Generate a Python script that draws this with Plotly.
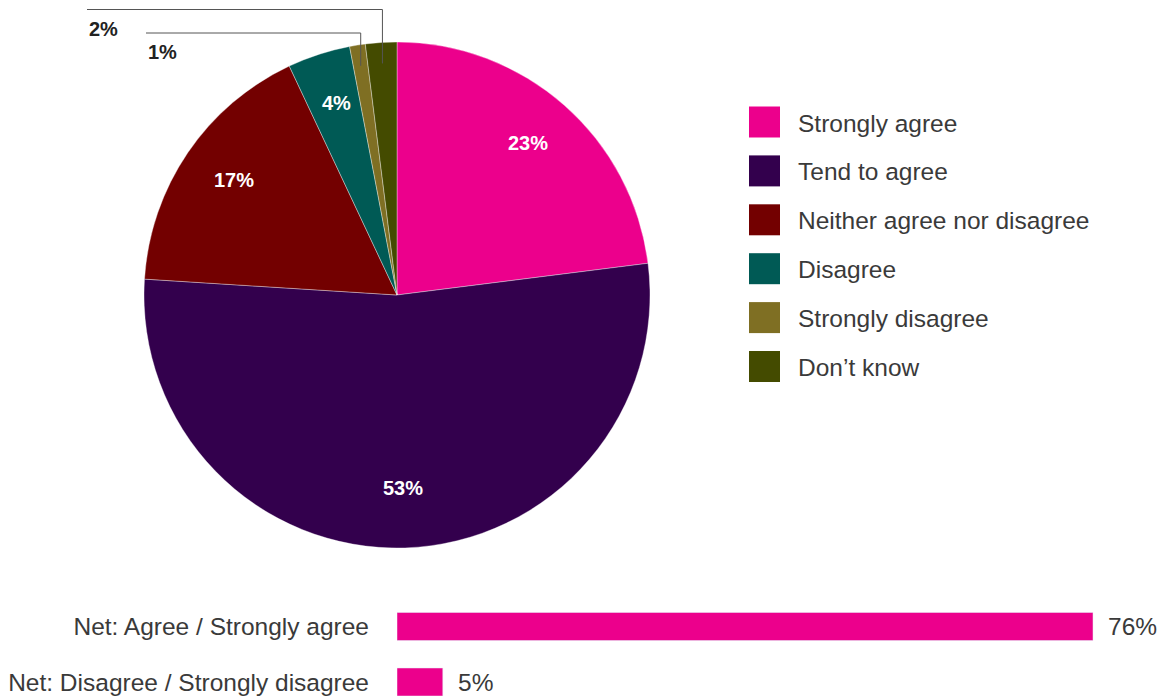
import math
import plotly.graph_objects as go

# ---- data ----
categories = ["Strongly agree", "Tend to agree", "Neither agree nor disagree",
              "Disagree", "Strongly disagree", "Don\u2019t know"]
values = [23, 53, 17, 4, 1, 2]
net_labels = ["Net: Agree / Strongly agree", "Net: Disagree / Strongly disagree"]
net_values = [76, 5]

# ---- style ----
colors = ["#EC008C", "#33004D", "#730000", "#005A55", "#7F6F23", "#444B00"]
W, H = 1169, 696
cx, cy, R = 397, 295, 253
FONT = "Liberation Sans, Arial, sans-serif"
TXT = "#3a3a3a"
TSIZE = 24.5

def px(x):
    return x / W

def py(y):
    return 1 - y / H

fig = go.Figure()
fig.add_trace(go.Pie(
    labels=categories, values=values, sort=False, direction="clockwise", rotation=0,
    marker=dict(colors=colors, line=dict(color="rgba(255,255,255,0.6)", width=0.6)),
    textinfo="none", hoverinfo="label+percent", showlegend=False,
    domain=dict(x=[px(cx - R), px(cx + R)], y=[py(cy + R), py(cy - R)]),
))

fig.add_trace(go.Bar(
    x=net_values, y=net_labels, orientation="h", marker=dict(color="#EC008C"),
    hoverinfo="x+y", showlegend=False, xaxis="x", yaxis="y",
))

annotations = []
shapes = []

total = sum(values)
cum = 0
# small-slice callout layout (label left x, line y)
callouts = {4: (146, 33), 5: (87, 9.5)}
for i, v in enumerate(values):
    mid = (cum + v / 2) / total * 2 * math.pi
    cum += v
    if i in callouts:
        lx, ly = callouts[i]
        r_in = R - 21
        x0 = cx + r_in * math.sin(mid)
        y0 = cy - r_in * math.cos(mid)
        shapes.append(dict(type="path", xref="paper", yref="paper",
                           path=f"M {px(x0)} {py(y0)} L {px(x0)} {py(ly)} L {px(lx)} {py(ly)}",
                           line=dict(color="#555555", width=1)))
        annotations.append(dict(x=px(lx), y=py(ly + 6), xref="paper", yref="paper",
                                xanchor="left", yanchor="top", showarrow=False,
                                text=f"<b>{v}%</b>",
                                font=dict(family=FONT, size=20, color="#222222")))
    else:
        rr = 0.78 * R
        x0 = cx + rr * math.sin(mid)
        y0 = cy - rr * math.cos(mid) - 4
        annotations.append(dict(x=px(x0), y=py(y0), xref="paper", yref="paper",
                                xanchor="center", yanchor="middle", showarrow=False,
                                text=f"<b>{v}%</b>",
                                font=dict(family=FONT, size=20, color="white")))

# manual legend
leg_x0, leg_sq, leg_top, leg_step = 749, 31, 122, 48.9
for i, (cat, col) in enumerate(zip(categories, colors)):
    yc = leg_top + i * leg_step
    shapes.append(dict(type="rect", xref="paper", yref="paper",
                       x0=px(leg_x0), x1=px(leg_x0 + leg_sq),
                       y0=py(yc + leg_sq / 2), y1=py(yc - leg_sq / 2),
                       fillcolor=col, line=dict(width=0)))
    annotations.append(dict(x=px(796), y=py(yc + 1), xref="paper", yref="paper",
                            xanchor="left", yanchor="middle", showarrow=False,
                            text=cat, font=dict(family=FONT, size=TSIZE, color=TXT)))

# bar value labels
for lab, v in zip(net_labels, net_values):
    annotations.append(dict(x=v, y=lab, xref="x", yref="y", xanchor="left",
                            yanchor="middle", xshift=13, showarrow=False,
                            text=f"{v}%", font=dict(family=FONT, size=TSIZE, color=TXT)))

px_per_unit = (1093 - 397) / 76
x_max = (W - 397) / px_per_unit
cat_step = 55.5
top_px = 598
r_top = -(626.5 - top_px) / cat_step
r_bot = r_top + (H - top_px) / cat_step

fig.update_layout(
    width=W, height=H, margin=dict(l=0, r=0, t=0, b=0),
    paper_bgcolor="white", plot_bgcolor="white",
    bargap=1 - 28 / cat_step,
    xaxis=dict(domain=[px(397), 1], range=[0, x_max], visible=False, fixedrange=True),
    yaxis=dict(domain=[0, (H - top_px) / H], range=[r_bot, r_top], type="category",
               showgrid=False, zeroline=False, showline=False, ticks="",
               ticklabelstandoff=27,
               tickfont=dict(family=FONT, size=TSIZE, color=TXT), fixedrange=True),
    annotations=annotations, shapes=shapes,
    font=dict(family=FONT),
)

fig.write_html("out.html", config={"displayModeBar": False},
               post_script="document.body.style.margin='0';document.body.style.overflow='hidden';")
